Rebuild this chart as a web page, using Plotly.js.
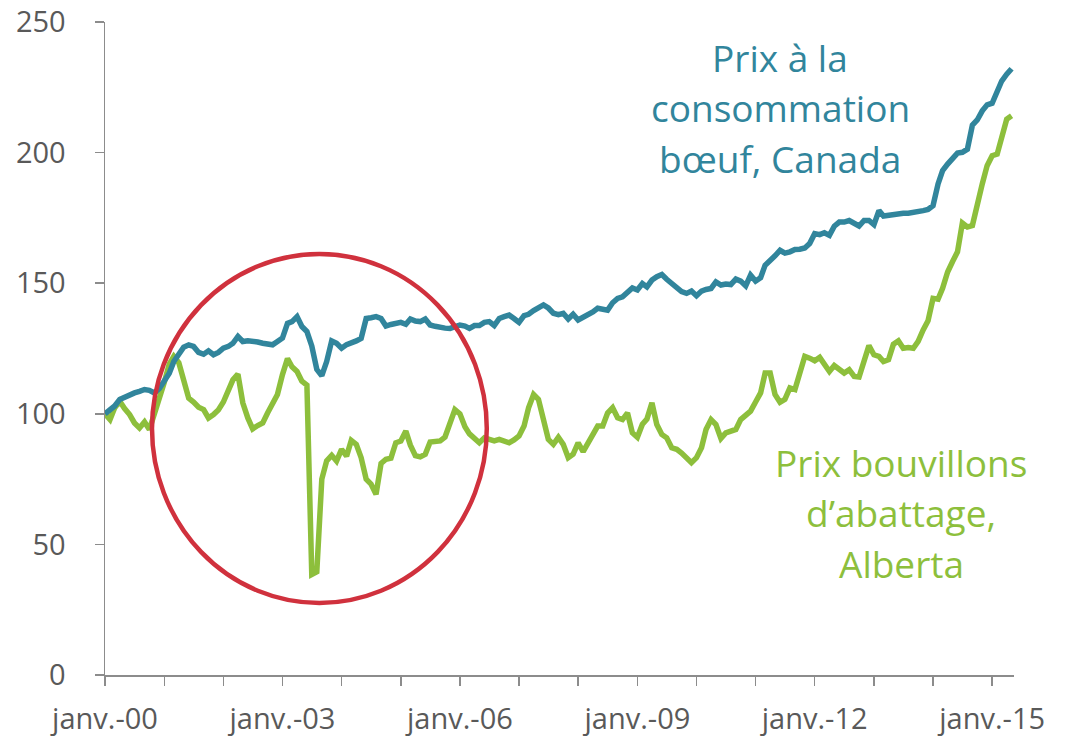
<!DOCTYPE html>
<html>
<head>
<meta charset="utf-8">
<script src="https://cdn.plot.ly/plotly-3.0.1.min.js"></script>
<style>html,body{margin:0;padding:0;background:#fff;}#chart{width:1071px;height:740px;}</style>
</head>
<body>
<div id="chart"></div>
<script>
// Monthly series, Jan 2000 .. May 2015 (index 2000 = 100)
const startYear = 2000;
const consumerBeefCanada = [
  100, 101.5, 103, 105.5, 106.5, 107, 108, 108.6, 109.3, 109, 108, 109.6,
  112.4, 115.5, 120, 123.2, 125.5, 126.4, 125.8, 123.5, 122.8, 124.1, 122.6, 123.5,
  125.1, 125.8, 127, 129.6, 127.7, 128, 127.9, 127.5, 127, 126.6, 126.4, 127.7,
  129, 134.6, 135.3, 137.2, 133.4, 131.5, 126, 117, 114.6, 120, 127.9, 127,
  125.1, 126.5, 127, 127.9, 128.9, 136.5, 136.8, 137.2, 136.5, 133.6, 134.2, 134.6,
  135, 134.3, 136.3, 135.5, 135.3, 136.3, 134, 133.5, 133, 132.8, 132.7, 133.5,
  134, 133.6, 132.7, 133.8, 133.8, 135, 135.3, 133.8, 136.5, 137.2, 137.8, 136.5,
  135, 137.6, 138.1, 139.5, 140.4, 141.7, 140.5, 138.5, 138, 138.5, 136.3, 138.1,
  135.9, 137, 137.6, 139, 140.4, 140, 139.7, 142.5, 144.2, 144.8, 146.5, 148.2,
  147.4, 149.9, 148.6, 151.2, 152.5, 153.3, 151.5, 150, 148.2, 146.8, 146.1, 147,
  145.2, 147, 147.6, 148, 150.5, 149.3, 149.7, 149.5, 151.6, 150.8, 149, 153.1,
  150.8, 152.1, 156.9, 158.5, 160.5, 162.6, 161.5, 162, 162.9, 163, 163.5, 165.2,
  169, 168.6, 169.3, 168.3, 171.8, 173.4, 173.4, 174, 172.8, 171.9, 174, 174,
  172.4, 177.8, 175.7, 176, 176.3, 176.8, 176.8, 176.8, 177, 177.5, 177.8, 178.2,
  179.7, 188, 193.1, 195.6, 198, 199.8, 200.1, 201.3, 210.5, 212.5, 216, 218.3,
  218.9, 222.9, 227.4, 230, 232.1
];
const steerAlberta = [
  100, 97.8, 102.3, 104.8, 102, 99.7, 96.5, 94.6, 96.9, 94, 100, 105.5,
  112, 119, 122, 119.5, 112.5, 106, 104.5, 102.5, 101.6, 98.4, 99.7, 101.5,
  104.5, 109.6, 113, 115.2, 104.2, 98.4, 94.2, 95.5, 96.5, 100.3, 103.5, 107.4,
  115, 121.1, 118, 116.2, 112.5, 111, 38.5, 39.5, 75, 82, 84.1, 81.9,
  86.4, 83.8, 89.8, 88.3, 83.2, 75, 73.1, 69.2, 81, 82.6, 83, 88.9,
  89.6, 93.4, 88, 84, 83.5, 84.5, 89.2, 89.4, 89.6, 91.1, 97, 101.6,
  100, 95, 92.3, 90.2, 88.9, 90.8, 90, 89.6, 90.2, 89.5, 88.9, 90,
  91.5, 95.3, 102.3, 107.4, 105.5, 97.8, 90.2, 88.3, 91, 88.3, 83.2, 84.5,
  88.9, 85.5, 88.9, 92.1, 95.3, 95.3, 100.3, 102.3, 98.5, 97.8, 100.3, 92.7,
  91, 96, 98, 104.2, 95.9, 92.1, 90.8, 87, 86.4, 85, 83.2, 81.3,
  83.2, 87, 94, 97.8, 95.9, 90.6, 92.7, 93.5, 94, 97.8, 99.5, 101,
  104.5, 108, 115.6, 115.6, 107.4, 104.4, 105.5, 109.9, 109.3, 116, 122, 121.3,
  120.3, 121.6, 118.5, 116.2, 118.5, 117, 115.6, 116.9, 114.3, 114.1, 120.7, 126.1,
  122.6, 122, 120, 120.7, 126.6, 127.9, 125.1, 125.4, 125.1, 127.7, 132.1, 135.6,
  144.2, 143.9, 148, 154.3, 158.2, 162, 173, 171.5, 172.1, 181, 188, 195,
  198.8, 199.4, 206.4, 212.8, 214.1
];
const tickYears = [2000,2001,2002,2003,2004,2005,2006,2007,2008,2009,2010,2011,2012,2013,2014,2015];
const tickLabels = ['janv.-00','','','janv.-03','','','janv.-06','','','janv.-09','','','janv.-12','','','janv.-15'];
const blueLabel = ['Prix à la', 'consommation', 'bœuf, Canada'];
const greenLabel = ['Prix bouvillons', 'd’abattage,', 'Alberta'];

function monthDate(i) {
  const y = startYear + Math.floor(i / 12);
  const m = (i % 12) + 1;
  return y + '-' + String(m).padStart(2, '0') + '-01';
}
const dates = consumerBeefCanada.map((_, i) => monthDate(i));

const BLUE = '#31859C';
const GREEN = '#8DBF3C';
const FONT = 'Open Sans, sans-serif';

const traces = [
  { x: dates, y: steerAlberta, type: 'scatter', mode: 'lines', name: greenLabel.join(' '),
    line: { color: GREEN, width: 5.5, shape: 'linear' } },
  { x: dates, y: consumerBeefCanada, type: 'scatter', mode: 'lines', name: blueLabel.join(' '),
    line: { color: BLUE, width: 5.5, shape: 'linear' } }
];

// plot area: top 22px, bottom 675px (height 653)
const plotH = 653;
const annotations = [];
const blueTop = (675 - 57) / plotH, greenTop = (675 - 462) / plotH, step = 50.5 / plotH;
blueLabel.forEach((t, k) => annotations.push({
  xref: 'paper', yref: 'paper', x: 0.7426, y: blueTop - k * step, text: t, showarrow: false,
  xanchor: 'center', yanchor: 'middle', font: { family: FONT, size: 37, color: BLUE }
}));
greenLabel.forEach((t, k) => annotations.push({
  xref: 'paper', yref: 'paper', x: 0.8757, y: greenTop - k * step, text: t, showarrow: false,
  xanchor: 'center', yanchor: 'middle', font: { family: FONT, size: 37, color: GREEN }
}));

const layout = {
  width: 1071, height: 740,
  margin: { l: 105, r: 57, t: 22, b: 65, pad: 0 },
  paper_bgcolor: '#fff', plot_bgcolor: '#fff',
  showlegend: false,
  font: { family: FONT, color: '#595959' },
  xaxis: {
    type: 'date', range: ['2000-01-01', '2015-05-16'],
    tickmode: 'array', tickvals: tickYears.map(y => y + '-01-01'), ticktext: tickLabels,
    ticks: 'outside', ticklen: 9, tickwidth: 1.5, tickcolor: '#8C8C8C',
    showline: true, linecolor: '#8C8C8C', linewidth: 1.5,
    showgrid: false, zeroline: false,
    tickfont: { family: FONT, size: 29, color: '#595959' },
    ticklabelstandoff: 9, ticklabeloverflow: 'allow'
  },
  yaxis: {
    range: [0, 250], tickmode: 'linear', tick0: 0, dtick: 50,
    ticks: 'outside', ticklen: 9, tickwidth: 1.5, tickcolor: '#8C8C8C',
    showline: true, linecolor: '#8C8C8C', linewidth: 1.5,
    showgrid: false, zeroline: false,
    tickfont: { family: FONT, size: 29, color: '#595959' },
    ticklabelstandoff: 23, ticklabeloverflow: 'allow'
  },
  shapes: [{
    type: 'circle', xref: 'paper', yref: 'paper', layer: 'above',
    x0: 0.0517, x1: 0.420, y0: (675 - 603) / plotH, y1: (675 - 254) / plotH,
    line: { color: '#D0313D', width: 4.5 }
  }],
  annotations: annotations
};

Plotly.newPlot('chart', traces, layout, { displayModeBar: false, staticPlot: true });
</script>
</body>
</html>
